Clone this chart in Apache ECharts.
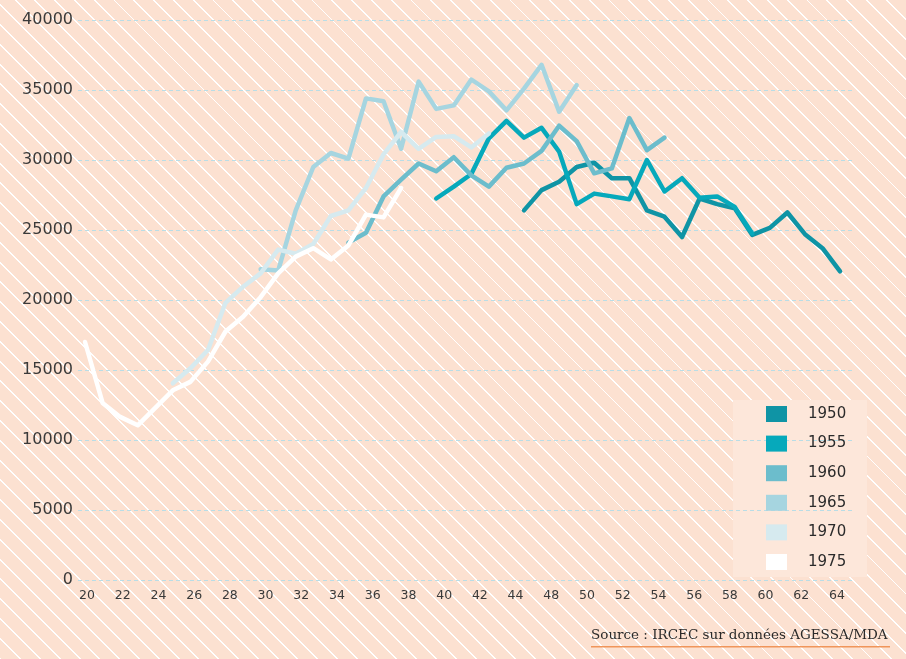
<!DOCTYPE html>
<html>
<head>
<meta charset="utf-8">
<script src="https://cdn.jsdelivr.net/npm/echarts@6/dist/echarts.min.js"></script>
<style>
html, body { margin: 0; padding: 0; }
#chart {
  width: 906px;
  height: 659px;
  background: repeating-linear-gradient(45deg, #ffffff 0 1.3px, #FCE1D1 1.3px 14px);
}
</style>
</head>
<body>
<div id="chart"></div>
<script>
// ages shown under the axis (46 is missing on the original)
const ageLabels = ['20','22','24','26','28','30','32','34','36','38','40','42','44',
                   '48','50','52','54','56','58','60','62','64'];
const cohorts = ['1950', '1955', '1960', '1965', '1970', '1975'];
const firstAge = [45, 40, 35, 30, 25, 20];
const colors = ['#0F94A5', '#06A9BB', '#6CBDCC', '#A6D5E0', '#D6EAEF', '#FFFFFF'];

const v1950 = [26400, 27850, 28450, 29500, 29800, 28700, 28700, 26400, 25950, 24500,
               27250, 26850, 26550, 24650, 25150, 26250, 24700, 23700, 22050];
const v1955 = [27250, 28100, 29000, 31550, 32800, 31600, 32300, 30600, 26850, 27600,
               27400, 27200, 30000, 27750, 28700, 27300, 27400, 26650, 24750];
const v1960 = [24100, 24800, 27400, 28600, 29750, 29200, 30200, 28900, 28100, 29450,
               29750, 30650, 32450, 31350, 29050, 29400, 33000, 30700, 31600];
const v1965 = [22200, 22100, 26400, 29500, 30500, 30100, 34400, 34200, 30800, 35600,
               33650, 33900, 35750, 34900, 33550, 35100, 36800, 33450, 35350];
const v1970 = [14050, 15120, 16430, 19800, 20950, 21900, 23600, 23300, 24000, 26000,
               26400, 28000, 30400, 32000, 30800, 31650, 31700, 30900, 31900];
const v1975 = [17000, 12650, 11650, 11050, 12300, 13550, 14150, 15600, 17750, 18800,
               20200, 21900, 23100, 23700, 22900, 23900, 26100, 25900, 28000];

const values = [v1950, v1955, v1960, v1965, v1970, v1975];

const font = '"DejaVu Sans", sans-serif';

const chart = echarts.init(document.getElementById('chart'), null, { renderer: 'canvas' });

const series = cohorts.map((name, k) => ({
  name: name,
  type: 'line',
  xAxisIndex: 0,
  yAxisIndex: 0,
  showSymbol: false,
  symbol: 'none',
  animation: false,
  color: colors[k],
  lineStyle: { width: 4.5, color: colors[k], join: 'round', cap: 'round' },
  data: values[k].map((v, i) => [firstAge[k] + i, v])
}));

chart.setOption({
  backgroundColor: 'transparent',
  animation: false,
  grid: [
    { left: 78, right: 51, top: 20, bottom: 79 },
    { left: 87, right: 69, top: 20, bottom: 79 }
  ],
  xAxis: [
    { type: 'value', gridIndex: 0, min: 19.6, max: 63.85, show: false },
    {
      type: 'category', gridIndex: 1, data: ageLabels, boundaryGap: false,
      axisLine: { show: false }, axisTick: { show: false }, splitLine: { show: false },
      axisLabel: { interval: 0, margin: 9, color: '#3a3a3a', fontSize: 12.5, fontFamily: font }
    }
  ],
  yAxis: [
    {
      type: 'value', gridIndex: 0, min: 0, max: 40000, interval: 5000,
      axisLine: { show: false }, axisTick: { show: false },
      axisLabel: { margin: 5, color: '#3a3a3a', fontSize: 16, fontFamily: font,
                   formatter: (v) => String(v) },
      splitLine: { show: true, lineStyle: { color: '#B9DDE6', width: 1, type: [4, 3] } }
    },
    { type: 'value', gridIndex: 1, show: false }
  ],
  legend: {
    orient: 'vertical',
    left: 733,
    top: 400,
    padding: [6, 23, 7, 33],
    itemWidth: 21,
    itemHeight: 16,
    itemGap: 13.6,
    icon: 'rect',
    data: cohorts,
    textStyle: { color: '#2b2b2b', fontSize: 15, fontFamily: font, padding: [0, 0, 0, 16] }
  },
  graphic: [
    {
      type: 'rect', z: -10, left: 733, top: 400,
      shape: { width: 134, height: 177 },
      style: { fill: '#FDE7DA' }
    },
    {
      type: 'text', left: 591, top: 628,
      style: { text: 'Source : IRCEC sur données AGESSA/MDA', fill: '#2a2a2a',
               font: '13.5px "DejaVu Serif", serif' }
    },
    {
      type: 'rect', left: 591, top: 646,
      shape: { width: 299, height: 1.5 },
      style: { fill: '#F0955A' }
    }
  ],
  series: series
});
</script>
</body>
</html>
